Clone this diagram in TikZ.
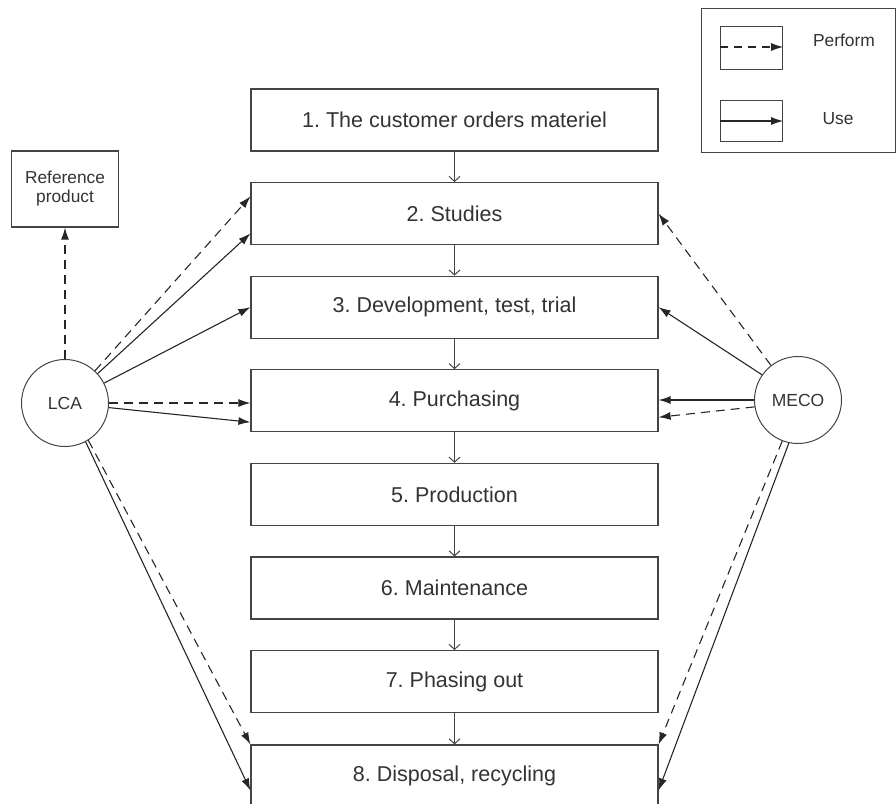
\documentclass[tikz,border=0pt]{standalone}
\usepackage{fontspec}
\setmainfont{Liberation Sans}
\usetikzlibrary{arrows.meta,calc}
\frenchspacing
\definecolor{ink}{HTML}{333333}
\definecolor{edge}{HTML}{444444}
\tikzset{
  stage/.style={draw=edge,line width=1.15pt,minimum width=407pt,minimum height=62pt,
    inner sep=0pt,font=\fontsize{21.5pt}{24pt}\selectfont,text=ink},
  tool/.style={circle,draw=edge,line width=1pt,minimum size=87pt,inner sep=0pt,
    font=\fontsize{17.5pt}{20pt}\selectfont,text=ink},
  smallbox/.style={draw=edge,line width=1.15pt,inner sep=0pt,text=ink,
    font=\fontsize{17.3pt}{20pt}\selectfont,align=center},
  perform/.style={draw=black!85,line width=1.1pt,dash pattern=on 9pt off 6pt,
    -{Latex[length=12pt,width=8pt]}},
  use/.style={draw=black!85,line width=1.1pt,-{Latex[length=12pt,width=8pt]}},
  flow/.style={draw=edge,line width=1pt,-{Straight Barb[length=5pt,width=11pt]}},
}
\begin{document}
\begin{tikzpicture}[x=1pt,y=-1pt]
\useasboundingbox (0,0) rectangle (896,803);
\clip (0,0) rectangle (896,803);

% process stages
\node[stage] (b1) at (454.5,120.0) {1. The customer orders materiel};
\node[stage] (b2) at (454.5,213.6) {2. Studies};
\node[stage] (b3) at (454.5,307.2) {3. Development, test, trial};
\node[stage] (b4) at (454.5,400.8) {4. Purchasing};
\node[stage] (b5) at (454.5,494.4) {5. Production};
\node[stage] (b6) at (454.5,588.0) {6. Maintenance};
\node[stage] (b7) at (454.5,681.6) {7. Phasing out};
\node[stage] (b8) at (454.5,776.0) {8. Disposal, recycling};

\foreach \a/\b in {b1/b2,b2/b3,b3/b4,b4/b5,b5/b6,b6/b7,b7/b8}
  \draw[flow] (\a.south) -- (\b.north);

% tools
\node[tool] (lca) at (65,403) {LCA};
\node[tool] (meco) at (798,400) {MECO};
\node[smallbox,minimum width=107pt,minimum height=76pt] (ref) at (65,189)
  {Reference\\[-1pt]product};

% LCA connectors
\draw[perform] (lca.north) -- (ref.south);
\draw[perform] (lca.47.6) -- ($(b2.north west)+(0,14.4)$);
\draw[use] (lca.42.4) -- ($(b2.north west)+(0,51.4)$);
\draw[use] (lca.27.6) -- (b3.west);
\draw[perform] (lca.east) -- (lca.east -| b4.west);
\draw[use] (lca.-6.5) -- ($(b4.north west)+(0,53)$);
\draw[perform] (lca.-58) -- (b8.north west);
\draw[use] (lca.-62.8) -- ($(b8.north west)+(0,46)$);

% MECO connectors
\draw[perform] (meco.128.7) -- (b2.east);
\draw[use] (meco.145) -- (b3.east);
\draw[use] (meco.west) -- (meco.west -| b4.east);
\draw[perform] (meco.189) -- ($(b4.north east)+(0,48)$);
\draw[perform] (meco.249.4) -- (b8.north east);
\draw[use] (meco.258) -- ($(b8.north east)+(0,46)$);

% legend
\node[draw=edge,line width=1.15pt,minimum width=194pt,minimum height=144pt,inner sep=0pt,anchor=north west]
  (legend) at (701,8) {};
\node[smallbox,minimum width=62pt,minimum height=43pt,anchor=north west] (lp) at (720,26) {};
\node[smallbox,minimum width=62pt,minimum height=41pt,anchor=north west] (lu) at (720,100) {};
\coordinate (lpin) at ($(lp.north west)+(0,21)$);
\coordinate (luin) at ($(lu.north west)+(0,21)$);
\draw[perform,dash pattern=on 8pt off 6pt] (lpin) -- (lpin -| lp.east);
\draw[use] (luin) -- (luin -| lu.east);
\node[text=ink,font=\fontsize{17.4pt}{20pt}\selectfont] (tp) at (844,40) {Perform};
\node[text=ink,font=\fontsize{17.4pt}{20pt}\selectfont] (tu) at (838,119) {Use};
\end{tikzpicture}
\end{document}
